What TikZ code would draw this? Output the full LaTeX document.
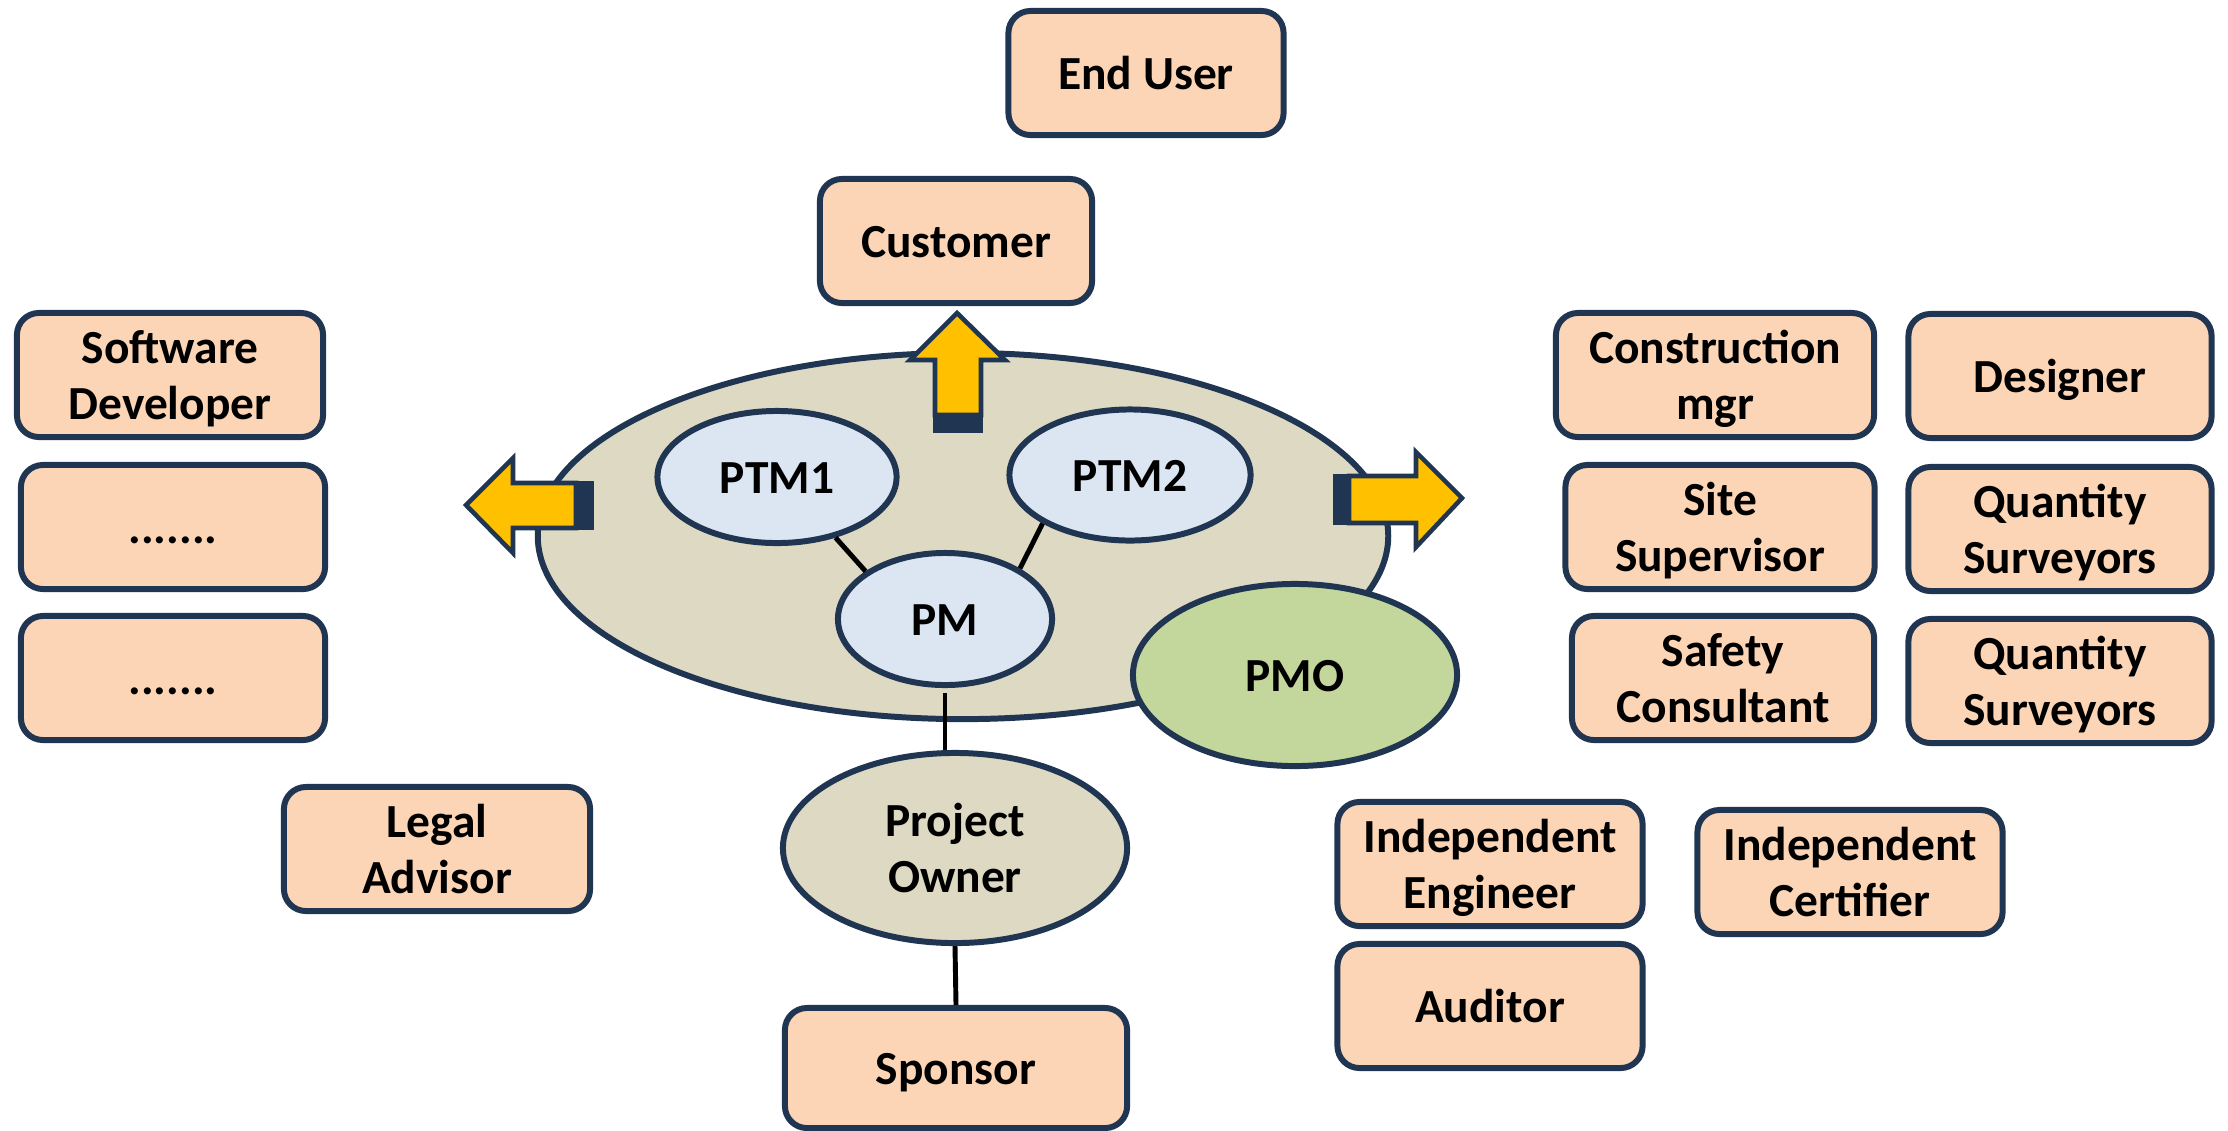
\documentclass[tikz,border=0pt]{standalone}
\usepackage{fontspec}
\setmainfont{Carlito}
\usetikzlibrary{shapes.geometric}
\definecolor{navy}{HTML}{1F3552}
\definecolor{peach}{HTML}{FBD5B5}
\definecolor{khaki}{HTML}{DDD9C3}
\definecolor{paleblue}{HTML}{DCE6F2}
\definecolor{pmogreen}{HTML}{C3D69B}
\definecolor{amber}{HTML}{FFC000}
\begin{document}
\begin{tikzpicture}[x=0.01cm,y=-0.01cm,line join=round,
		font=\fontsize{13.5}{16}\selectfont\bfseries,
		every node/.append style={execute at begin node={\rule{0pt}{13pt}},
			execute at end node={\rule[-3.5pt]{0pt}{0pt}}},
		twoline/.style={execute at begin node={\rule{0pt}{29pt}}},
		box/.style={draw=navy,fill=peach,line width=1.7pt,rounded corners=0.22cm,
			align=center,inner sep=0pt,minimum height=1.24cm},
		bubble/.style={ellipse,draw=navy,line width=1.7pt,align=center,inner sep=0pt},
		link/.style={line width=1.4pt,black},
		arrowbody/.style={draw=navy,fill=amber,line width=1.3pt,line join=miter}]
			\useasboundingbox (0,0) rectangle (2228,1130);
			% stakeholders, top and left
			\node[box,minimum width=2.75cm] (enduser) at (1146,73) {End User};
			\node[box,minimum width=2.72cm] (customer) at (956,241) {Customer};
			\node[box,twoline,minimum width=3.06cm] (softdev) at (170,375) {Software\\Developer};
			\foreach \n/\y in {other1/527,other2/678}
			{
				\node[box,minimum width=3.04cm] (\n) at (173,\y) {.......};
			}
			\node[box,twoline,minimum width=3.06cm] (legal) at (437,849) {Legal\\Advisor};
			% stakeholders, right
			\node[box,twoline,minimum width=3.18cm] (constr) at (1715,375) {Construction\\mgr};
			\node[box,minimum width=3.03cm] (designer) at (2060,376) {Designer};
			\node[box,twoline,minimum width=3.09cm] (site) at (1720,527) {Site\\Supervisor};
			\node[box,twoline,minimum width=3.03cm] (qs1) at (2060,529) {Quantity\\Surveyors};
			\node[box,twoline,minimum width=3.02cm] (safety) at (1723,678) {Safety\\Consultant};
			\node[box,twoline,minimum width=3.03cm] (qs2) at (2060,681) {Quantity\\Surveyors};
			\node[box,twoline,minimum width=3.05cm] (indeng) at (1490,864) {Independent\\Engineer};
			\node[box,minimum width=3.05cm] (auditor) at (1490,1006) {Auditor};
			\node[box,twoline,minimum width=3.05cm] (indcert) at (1850,872) {Independent\\Certifier};
			\node[box,minimum width=3.42cm,minimum height=1.20cm] (sponsor) at (956,1068) {Sponsor};
			% project team
			\node[bubble,fill=khaki,minimum width=8.50cm,minimum height=3.66cm] (team) at (963,536) {};
			\node[bubble,fill=paleblue,minimum width=2.39cm,minimum height=1.32cm] (ptm1) at (777,477) {PTM1};
			\node[bubble,fill=paleblue,minimum width=2.41cm,minimum height=1.31cm] (ptm2) at (1130,475) {PTM2};
			\node[bubble,fill=paleblue,minimum width=2.14cm,minimum height=1.32cm] (pm) at (945,619) {PM};
			\node[bubble,twoline,fill=khaki,minimum width=3.44cm,minimum height=1.90cm] (owner) at (955,848) {Project\\Owner};
			\draw[link] (ptm1.-46) -- (pm.149);
			\draw[link] (ptm2.209) -- (pm.34);
			\draw[link] ([yshift=-0.05cm]pm.south) -- (pm.south |- owner.north);
			\draw[link] (owner.south) -- (sponsor.north);
			\node[bubble,fill=pmogreen,minimum width=3.24cm,minimum height=1.82cm] (pmo) at (1295,675) {PMO};
			% block arrows
			\draw[arrowbody] (935,415) -- (935,360) -- (910,360) -- (957,313) -- (1005,360) -- (981,360) -- (981,415) -- cycle;
			\fill[navy] (933,415) rectangle (983,433);
			\draw[arrowbody] (576,483) -- (513,483) -- (513,458) -- (466,505) -- (513,553) -- (513,528) -- (576,528) -- cycle;
			\fill[navy] (576,481) rectangle (594,530);
			\draw[arrowbody] (1349,476) -- (1416,476) -- (1416,452) -- (1462,498) -- (1416,547) -- (1416,523) -- (1349,523) -- cycle;
			\fill[navy] (1333,474) rectangle (1349,525);
		\end{tikzpicture}
\end{document}
